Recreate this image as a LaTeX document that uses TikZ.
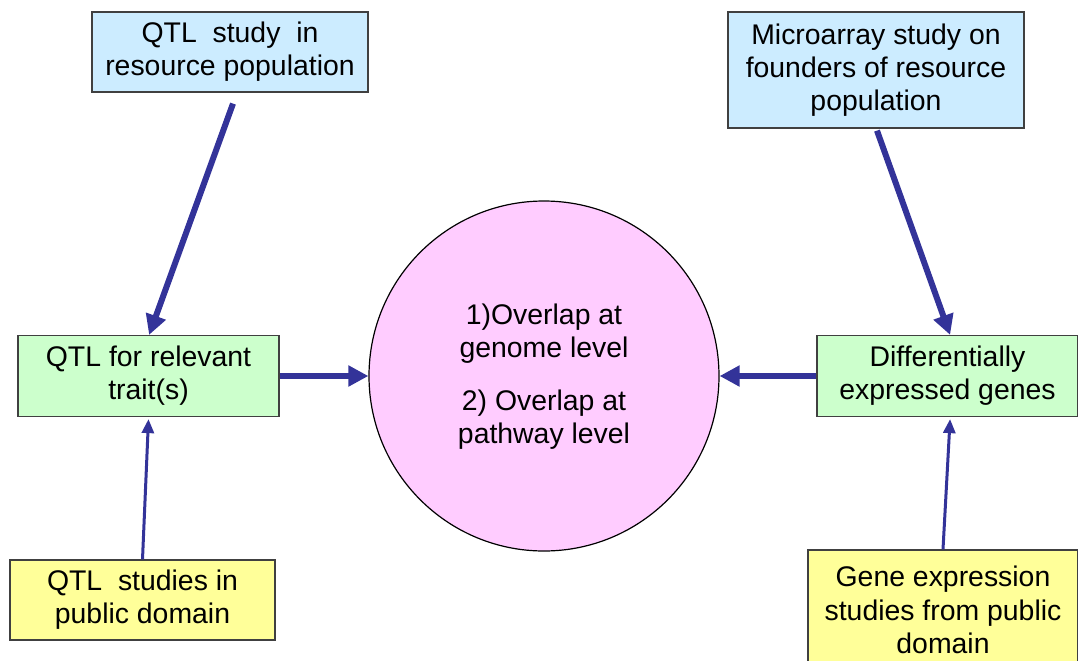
\documentclass[tikz,border=0pt]{standalone}
\usepackage{fontspec}
\setmainfont{Liberation Sans}
\usetikzlibrary{arrows.meta}
\definecolor{arrowblue}{HTML}{333399}
\definecolor{boxblue}{HTML}{CCECFF}
\definecolor{boxgreen}{HTML}{CCFFCC}
\definecolor{boxyellow}{HTML}{FFFF99}
\definecolor{circlepink}{HTML}{FFCCFF}
\begin{document}
\begin{tikzpicture}[x=0.5pt, y=-0.5pt,
  every node/.style={align=center, font=\fontsize{14.2}{16.6}\selectfont, inner sep=0pt},
  studybox/.style={draw=black!75, line width=0.6pt, fill=boxblue},
  resultbox/.style={draw=black!75, line width=0.6pt, fill=boxgreen},
  publicbox/.style={draw=black!75, line width=0.6pt, fill=boxyellow},
  bigarrow/.style={arrowblue, line width=3pt, -{Triangle[length=10pt, width=10pt]}},
  thinarrow/.style={arrowblue, line width=1.5pt, -{Triangle[length=7pt, width=6pt]}}]
  \useasboundingbox (0, 0) rectangle (1078, 660);

  % Overlap circle in the middle
  \node[circle, draw=black, line width=0.6pt, fill=circlepink, minimum size=350*0.5pt] (overlap) at (544, 376) {};
  \node at (544, 334) {1)Overlap at\\genome level};
  \node at (544, 420) {2) Overlap at\\pathway level};

  % Studies on the resource population
  \node[studybox, minimum width=276*0.5pt, minimum height=80*0.5pt] (qtlstudy) at (230, 52) {QTL\ \ study\ \ in\\resource population};
  \node[studybox, minimum width=296*0.5pt, minimum height=116*0.5pt] (microarray) at (876, 70) {Microarray study on\\founders of resource\\population};

  % Results that go into the overlap
  \node[resultbox, minimum width=261*0.5pt, minimum height=81*0.5pt] (qtltrait) at (148.5, 376) {QTL for relevant\\trait(s)};
  \node[resultbox, minimum width=261*0.5pt, minimum height=81*0.5pt] (diffgenes) at (947.5, 376) {Differentially\\expressed genes};

  % Public domain data
  \node[publicbox, minimum width=265*0.5pt, minimum height=80*0.5pt] (qtlpublic) at (142.5, 600) {QTL\ \ studies in\\public domain};
  \node[publicbox, minimum width=270*0.5pt, minimum height=120*0.5pt] (genepublic) at (943, 610) {Gene expression\\studies from public\\domain};

  % Arrows
  \draw[bigarrow] ([xshift=1.5pt, yshift=-5.5pt]qtlstudy.south) -- ([xshift=0.3pt]qtltrait.north);
  \draw[bigarrow] ([xshift=0.5pt, yshift=-1pt]microarray.south) -- ([xshift=1.3pt]diffgenes.north);
  \draw[bigarrow] (qtltrait.east) -- (overlap.west);
  \draw[bigarrow] (diffgenes.west) -- (overlap.east);
  \draw[thinarrow] (qtlpublic.north) -- ([yshift=-1pt]qtltrait.south);
  \draw[thinarrow] (genepublic.north) -- ([xshift=1.3pt, yshift=-1pt]diffgenes.south);
\end{tikzpicture}
\end{document}
